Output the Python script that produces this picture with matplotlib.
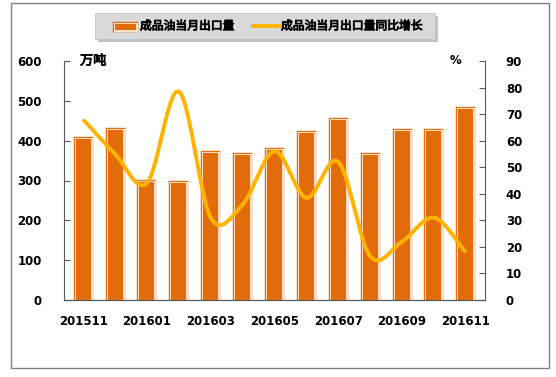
import numpy as np
import matplotlib.pyplot as plt
import matplotlib.patheffects as pe
from matplotlib.patches import Rectangle
from matplotlib.lines import Line2D

plt.rcParams['font.family'] = ['Noto Sans CJK SC', 'DejaVu Sans']

months = ['201511', '201512', '201601', '201602', '201603', '201604', '201605',
          '201606', '201607', '201608', '201609', '201610', '201611']
export_vol = [404, 427, 295, 293, 368, 363, 377, 418, 452, 365, 425, 425, 480]
yoy_growth = [68, 55, 44, 78.5, 31, 36, 56, 38.5, 52, 16.5, 22, 31, 18]
tick_months = ['201511', '201601', '201603', '201605', '201607', '201609', '201611']

ORANGE = '#E36C0A'
PEACH = '#FDE0C8'
GOLD = '#FFB300'
NUM_FONT = ['DejaVu Sans']
# fake bold for the CJK text
BOLD_FX = [pe.Stroke(linewidth=0.6, foreground='black'), pe.Normal()]

fig = plt.figure(figsize=(5.56, 3.77), dpi=100)
# outer frame
fig.patches.append(Rectangle((11 / 556, 1 - 368 / 377), (549 - 11) / 556, (368 - 3) / 377,
                             transform=fig.transFigure, fill=False,
                             edgecolor='#808080', linewidth=1.0))

ax = fig.add_axes([64 / 556, 1 - 300 / 377, (485 - 64) / 556, (300 - 61) / 377])
ax2 = ax.twinx()

x = np.arange(len(months))
bars = ax.bar(x, export_vol, width=0.47, color=ORANGE, linewidth=0, zorder=2)
for b in bars:
    b.set_path_effects([pe.Stroke(linewidth=3.2, foreground=ORANGE),
                        pe.Stroke(linewidth=2.2, foreground=PEACH),
                        pe.Normal()])

# smooth line through points (Catmull-Rom, close to Excel smoothing)
def smooth(xs, ys, n=30):
    xs = np.asarray(xs, float)
    ys = np.asarray(ys, float)
    px = np.concatenate([[2 * xs[0] - xs[1]], xs, [2 * xs[-1] - xs[-2]]])
    py = np.concatenate([[2 * ys[0] - ys[1]], ys, [2 * ys[-1] - ys[-2]]])
    ox, oy = [], []
    for i in range(1, len(px) - 2):
        t = np.linspace(0, 1, n, endpoint=False)
        for arr, out in ((px, ox), (py, oy)):
            p0, p1, p2, p3 = arr[i - 1], arr[i], arr[i + 1], arr[i + 2]
            out.extend(0.5 * (2 * p1 + (-p0 + p2) * t + (2 * p0 - 5 * p1 + 4 * p2 - p3) * t ** 2
                              + (-p0 + 3 * p1 - 3 * p2 + p3) * t ** 3))
    ox.append(xs[-1])
    oy.append(ys[-1])
    return np.array(ox), np.array(oy)

sx, sy = smooth(x, yoy_growth)
ax2.plot(sx, sy, color=GOLD, linewidth=2.8, solid_capstyle='butt', zorder=3)

ax.set_xlim(-0.6, len(months) - 0.4)
ax.set_ylim(0, 600)
ax2.set_ylim(0, 90)
ax.set_yticks(range(0, 601, 100))
ax2.set_yticks(range(0, 91, 10))
ax.set_xticks([months.index(m) for m in tick_months])
ax.set_xticklabels(tick_months)

for a in (ax, ax2):
    a.spines['top'].set_visible(False)
    for s in a.spines.values():
        s.set_color('#595959')
        s.set_linewidth(0.8)
ax.spines['right'].set_visible(False)
ax2.spines['left'].set_visible(False)

ax.tick_params(axis='y', direction='in', length=4, color='#595959', pad=16, labelsize=8.5)
ax2.tick_params(axis='y', direction='in', length=4, color='#595959', pad=15, labelsize=8.5)
ax.tick_params(axis='x', length=0, pad=11, labelsize=8.5)
for lab in ax.get_yticklabels() + ax2.get_yticklabels() + ax.get_xticklabels():
    lab.set_family(NUM_FONT)
    lab.set_fontweight('bold')

ax.text(0.038, 600, '万吨', transform=ax.get_yaxis_transform(), ha='left', va='center',
        fontsize=9.5, path_effects=BOLD_FX)
ax2.text(0.945, 90, '%', transform=ax2.get_yaxis_transform(), ha='right', va='center',
         fontsize=8.5, fontweight='bold', family=NUM_FONT)

# legend box with shadow
lx0, ly0, lw, lh = 95 / 556, 1 - 39 / 377, (435 - 95) / 556, 26 / 377
fig.patches.append(Rectangle((lx0 + 3 / 556, ly0 - 3 / 377), lw, lh, transform=fig.transFigure,
                             facecolor='#9a9a9a', edgecolor='none', alpha=0.6))
fig.patches.append(Rectangle((lx0, ly0), lw, lh, transform=fig.transFigure,
                             facecolor='#D9D9D9', edgecolor='#BFBFBF', linewidth=0.5))
fig.patches.append(Rectangle((115 / 556, 1 - 29.5 / 377), 21 / 556, 6 / 377, transform=fig.transFigure,
                             facecolor=ORANGE, linewidth=0,
                             path_effects=[pe.Stroke(linewidth=3.2, foreground=ORANGE),
                                           pe.Stroke(linewidth=2.2, foreground=PEACH),
                                           pe.Normal()]))
fig.text(140 / 556, 1 - 26 / 377, '成品油当月出口量', ha='left', va='center',
         fontsize=8.5, path_effects=BOLD_FX)
fig.lines.append(Line2D([253 / 556, 280 / 556], [1 - 26 / 377, 1 - 26 / 377],
                        transform=fig.transFigure, color=GOLD, linewidth=2.8))
fig.text(281 / 556, 1 - 26 / 377, '成品油当月出口量同比增长', ha='left', va='center',
         fontsize=8.5, path_effects=BOLD_FX)

fig.savefig('out.png', dpi=100)
